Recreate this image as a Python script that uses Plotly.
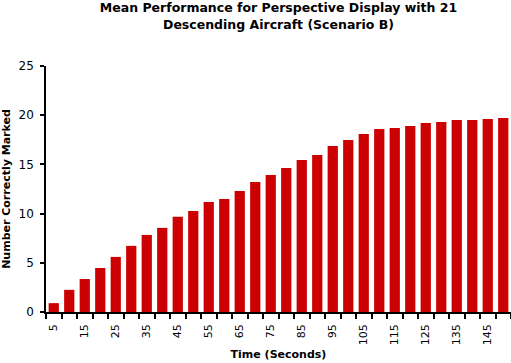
import plotly.graph_objects as go

times = list(range(5, 155, 5))
values = [0.9, 2.25, 3.35, 4.47, 5.6, 6.72, 7.83, 8.55, 9.67,
          10.27, 11.18, 11.48, 12.3, 13.22, 13.93, 14.63, 15.45, 15.96,
          16.87, 17.48, 18.09, 18.6, 18.7, 18.9, 19.21, 19.31, 19.51,
          19.51, 19.61, 19.72]
x_tick_vals = list(range(5, 150, 10))
x_tick_text = [str(v) for v in x_tick_vals]
y_tick_vals = [0, 5, 10, 15, 20, 25]

fig = go.Figure(go.Bar(x=times, y=values, width=3.3,
                       marker=dict(color="#CC0000", line=dict(width=0))))

fig.update_layout(
    width=511, height=363,
    margin=dict(l=46, r=0, t=66, b=51),
    paper_bgcolor="white", plot_bgcolor="white",
    showlegend=False,
    title=dict(text="<b>Mean Performance for Perspective Display with 21<br>Descending Aircraft (Scenario B)</b>",
               x=0.545, xanchor="center", xref="container",
               y=0.966, yanchor="top", yref="container",
               font=dict(family="DejaVu Sans", size=12.5, color="black")),
)
fig.update_xaxes(
    range=[2.5, 152.5], showgrid=False, zeroline=False,
    showline=True, linecolor="black", linewidth=1.5,
    tickmode="array", tickvals=x_tick_vals, ticktext=x_tick_text,
    ticks="outside", ticklen=6, tickcolor="rgba(0,0,0,0)",
    tickangle=-90, tickfont=dict(family="DejaVu Sans", size=11, color="black"),
    minor=dict(tick0=2.5, dtick=5, ticks="outside", ticklen=5, tickcolor="black", tickwidth=1.5),
    title=dict(text="<b>Time (Seconds)</b>", standoff=6,
               font=dict(family="DejaVu Sans", size=11, color="black")),
    automargin=False,
)
fig.update_yaxes(
    range=[0, 25], showgrid=False, zeroline=False,
    showline=True, linecolor="black", linewidth=1.5,
    tickmode="array", tickvals=y_tick_vals,
    ticks="outside", ticklen=4, tickcolor="black", tickwidth=1.5,
    ticklabelstandoff=4,
    tickfont=dict(family="DejaVu Sans", size=12, color="black"),
    title=dict(text="<b>Number Correctly Marked</b>", standoff=12,
               font=dict(family="DejaVu Sans", size=11, color="black")),
    automargin=False,
)

fig.write_html("out.html", config={"displayModeBar": False},
               post_script="document.body.style.margin='0';document.body.style.overflow='hidden';")
